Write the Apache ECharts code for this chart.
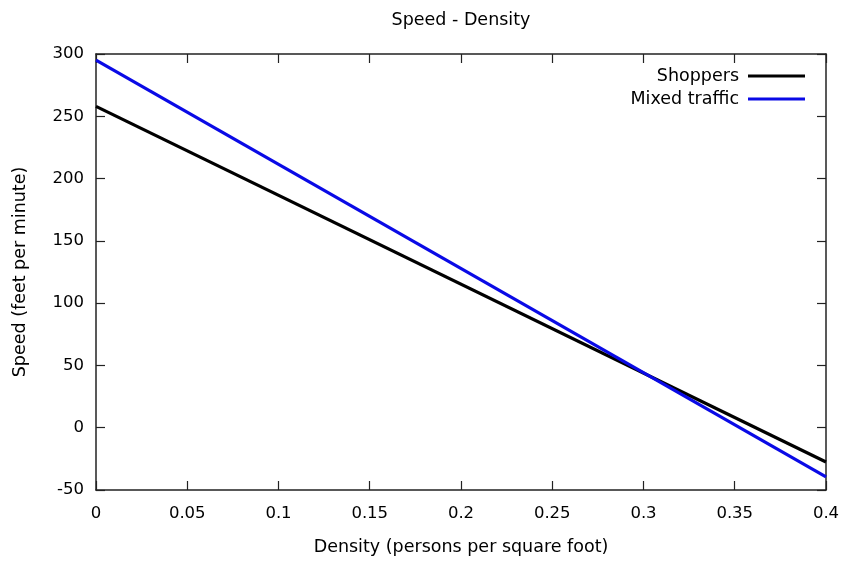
<!DOCTYPE html>
<html>
<head>
<meta charset="utf-8">
<script src="https://cdn.jsdelivr.net/npm/echarts@6/dist/echarts.min.js"></script>
<style>
  html, body { margin: 0; padding: 0; background: #fff; }
  #chart { width: 846px; height: 561px; }
</style>
</head>
<body>
<div id="chart"></div>
<script>
// density (persons per square foot) at the two ends of the plot
const density = [0, 0.4];
// speed (feet per minute)
const shoppers = [258, -27.5];
const mixedTraffic = [295, -39.5];

const xTicks = { min: 0, max: 0.4, interval: 0.05 };
const yTicks = { min: -50, max: 300, interval: 50 };

const font = 'DejaVu Sans';
const chart = echarts.init(document.getElementById('chart'));

const pairs = (xs, ys) => xs.map((x, i) => [x, ys[i]]);

const tickStyle = { show: true, inside: true, length: 9, lineStyle: { color: '#222', width: 1.2 } };
const axisLine = { show: true, onZero: false, lineStyle: { color: '#222', width: 1.5 } };

chart.setOption({
    animation: false,
    backgroundColor: '#fff',
    title: {
        text: 'Speed - Density',
        left: 456,
        textAlign: 'center',
        top: 6,
        textStyle: { fontFamily: font, fontSize: 17.5, fontWeight: 'normal', color: '#000' }
    },
    legend: {
        orient: 'vertical',
        right: 36,
        top: 62,
        align: 'right',
        itemGap: 5,
        itemWidth: 57,
        itemHeight: 3,
        icon: 'rect',
        textStyle: { fontFamily: font, fontSize: 17.5, color: '#000', padding: [0, 4, 0, 0] },
        data: ['Shoppers', 'Mixed traffic']
    },
    grid: { left: 96, right: 20, top: 54, bottom: 71 },
    xAxis: [{
        type: 'value',
        position: 'bottom',
        ...xTicks,
        name: 'Density (persons per square foot)',
        nameLocation: 'middle',
        nameGap: 48,
        nameTextStyle: { fontFamily: font, fontSize: 17.5, color: '#000' },
        axisLine,
        axisTick: tickStyle,
        splitLine: { show: false },
        axisLabel: { fontFamily: font, fontSize: 16.5, color: '#000', margin: 15 }
    }, {
        type: 'value',
        position: 'top',
        ...xTicks,
        axisLine,
        axisTick: tickStyle,
        splitLine: { show: false },
        axisLabel: { show: false }
    }],
    yAxis: [{
        type: 'value',
        position: 'left',
        ...yTicks,
        name: 'Speed (feet per minute)',
        nameLocation: 'middle',
        nameGap: 67,
        nameTextStyle: { fontFamily: font, fontSize: 17.5, color: '#000' },
        axisLine,
        axisTick: tickStyle,
        splitLine: { show: false },
        axisLabel: { fontFamily: font, fontSize: 16.5, color: '#000', margin: 12 }
    }, {
        type: 'value',
        position: 'right',
        ...yTicks,
        axisLine,
        axisTick: tickStyle,
        splitLine: { show: false },
        axisLabel: { show: false }
    }],
    series: [{
        name: 'Shoppers',
        type: 'line',
        data: pairs(density, shoppers),
        showSymbol: false,
        color: '#000',
        lineStyle: { width: 3.2, color: '#000' }
    }, {
        name: 'Mixed traffic',
        type: 'line',
        data: pairs(density, mixedTraffic),
        showSymbol: false,
        color: '#0a0ae6',
        lineStyle: { width: 3.2, color: '#0a0ae6' }
    }]
});
</script>
</body>
</html>
